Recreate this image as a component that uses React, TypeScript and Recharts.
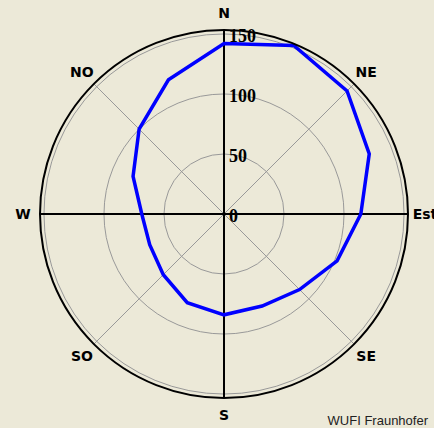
import React from 'react';
import { RadarChart, Radar, PolarGrid, PolarAngleAxis, PolarRadiusAxis } from 'recharts';

// wind directions in degrees, clockwise from north
const directions = [0, 22.5, 45, 67.5, 90, 112.5, 135, 157.5, 180, 202.5, 225, 247.5, 270, 292.5, 315, 337.5];
const values = [142, 152, 145, 131, 114, 102, 89, 83, 84, 80, 71.5, 67, 68.5, 82, 100, 121];

const compassTicks = [0, 45, 90, 135, 180, 225, 270, 315];
const compassLabels = ['N', 'NE', 'Est', 'SE', 'S', 'SO', 'W', 'NO'];
const radiusTicks = [0, 50, 100, 150];
const radiusMax = 153.3;

const data = directions.map((d, i) => ({ dir: d, value: values[i] }));

const CompassTick = (props: any) => {
  const { x, y, payload } = props;
  const label = compassLabels[compassTicks.indexOf(payload.value)];
  return (
    <text
      x={x}
      y={y}
      textAnchor="middle"
      dominantBaseline="central"
      fontFamily="DejaVu Sans"
      fontWeight="bold"
      fontSize={14}
      fill="#000"
    >
      {label}
    </text>
  );
};

const RadiusTick = (props: any) => {
  const { x, y, payload } = props;
  return (
    <text
      x={x + 5}
      y={y + 2}
      textAnchor="start"
      dominantBaseline="central"
      fontFamily="Liberation Serif"
      fontWeight="bold"
      fontSize={18}
      fill="#000"
    >
      {payload.value}
    </text>
  );
};

export default function App() {
  return (
    <div
      style={{
        position: 'absolute',
        left: 0,
        top: 0,
        width: 434,
        height: 428,
        background: '#ECE9D8',
        overflow: 'hidden',
      }}
    >
      <RadarChart
        width={434}
        height={428}
        data={data}
        cx={224}
        cy={214}
        outerRadius={184}
        margin={{ top: 0, right: 0, bottom: 0, left: 0 }}
      >
        <PolarGrid gridType="circle" stroke="#999" />
        {/* main N-S / W-E cross */}
        <PolarGrid gridType="circle" polarAngles={[0, 90, 180, 270]} polarRadius={[]} stroke="#000" strokeWidth={2} />
        <PolarAngleAxis
          dataKey="dir"
          type="number"
          domain={[0, 360]}
          ticks={compassTicks}
          tick={<CompassTick />}
          tickLine={false}
          tickSize={17}
          axisLineType="circle"
          stroke="#000"
          axisLine={{ stroke: '#000', strokeWidth: 2 }}
        />
        <PolarRadiusAxis
          angle={90}
          type="number"
          domain={[0, radiusMax]}
          allowDataOverflow
          ticks={radiusTicks}
          tick={<RadiusTick />}
          tickLine={false}
          axisLine={false}
        />
        <Radar
          dataKey="value"
          stroke="#0000ff"
          strokeWidth={3.5}
          fill="none"
          fillOpacity={0}
          dot={false}
          isAnimationActive={false}
        />
      </RadarChart>
      <div
        style={{
          position: 'absolute',
          right: 6,
          top: 413,
          fontFamily: 'Liberation Sans',
          fontSize: 13,
          color: '#222',
          whiteSpace: 'nowrap',
        }}
      >
        WUFI Fraunhofer
      </div>
    </div>
  );
}
